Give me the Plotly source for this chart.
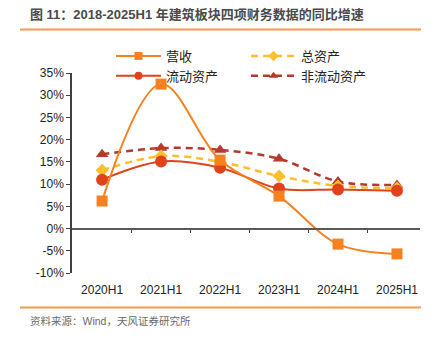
import plotly.graph_objects as go

# Periods and year-on-year growth rates (%)
periods = ["2020H1", "2021H1", "2022H1", "2023H1", "2024H1", "2025H1"]
revenue = [6.2, 32.5, 15.4, 7.3, -3.5, -5.7]            # 营收
total_assets = [13.1, 16.3, 15.0, 11.8, 9.6, 9.1]       # 总资产
current_assets = [11.0, 15.1, 13.7, 9.0, 8.8, 8.5]      # 流动资产
noncurrent_assets = [16.7, 18.1, 17.7, 15.7, 10.6, 9.8]  # 非流动资产

y_ticks = [-10, -5, 0, 5, 10, 15, 20, 25, 30, 35]
y_tick_text = ["-10%", "-5%", "0%", "5%", "10%", "15%", "20%", "25%", "30%", "35%"]

W, H = 436, 340
ML, MR, MT, MB = 72, 16, 73, 67
PW, PH = W - ML - MR, H - MT - MB


def px_x(x):
    return (x - ML) / PW


def px_y(y):
    return (H - MB - y) / PH


xs = list(range(len(periods)))
CJK = "Liberation Sans, Noto Sans CJK SC, sans-serif"

series = [
    # name, values, colour, width, dash, symbol, size, legend
    ("营收", revenue, "#F5821F", 2, "solid", "square", 11, "legend"),
    ("流动资产", current_assets, "#E0421C", 2, "solid", "circle", 12, "legend"),
    ("总资产", total_assets, "#FFBE2B", 2.5, "7px,5px", "diamond", 10, "legend2"),
    ("非流动资产", noncurrent_assets, "#B53A2C", 2.5, "7px,5px", "triangle-up", 11, "legend2"),
]

fig = go.Figure()

# Series lines and markers (drawn back to front so 营收 stays on top)
for name, vals, color, width, dash, symbol, size, leg in reversed(series):
    fig.add_trace(go.Scatter(
        x=xs, y=vals, name=name, mode="lines+markers",
        line=dict(color=color, width=width, dash=dash, shape="spline", smoothing=1),
        marker=dict(symbol=symbol, size=size, color=color),
        showlegend=False,
    ))

# Legend entries with compact markers
for name, vals, color, width, dash, symbol, size, leg in series:
    fig.add_trace(go.Scatter(
        x=[None], y=[None], name=name, mode="lines+markers",
        line=dict(color=color, width=width, dash=dash),
        marker=dict(symbol=symbol, size=8, color=color),
        legend=leg, showlegend=True,
    ))

x_range = [-0.51, 5.39]

legend_style = dict(
    xanchor="left", yanchor="top", orientation="v",
    font=dict(size=13, color="#222222"),
    bgcolor="rgba(0,0,0,0)", tracegroupgap=0, itemwidth=45,
)

fig.update_layout(
    width=W, height=H,
    margin=dict(l=ML, r=MR, t=MT, b=MB),
    paper_bgcolor="white", plot_bgcolor="white",
    font=dict(family=CJK, size=12, color="#222222"),
    showlegend=True,
    xaxis=dict(
        range=x_range, tickmode="array", tickvals=xs, ticktext=periods,
        showline=False, showgrid=False, zeroline=False,
        ticks="", ticklabelstandoff=8,
        tickfont=dict(size=12, color="#222222"),
    ),
    xaxis2=dict(
        range=x_range, overlaying="x", anchor="free", position=10 / 45,
        showline=True, linecolor="#595959", linewidth=2,
        tickmode="array", tickvals=[0.5, 1.5, 2.5, 3.5, 4.5],
        ticks="outside", ticklen=3, tickcolor="#404040", tickwidth=1,
        showticklabels=False, showgrid=False, zeroline=False, side="bottom",
    ),
    yaxis=dict(
        range=[-10, 35], tickmode="array", tickvals=y_ticks, ticktext=y_tick_text,
        showline=True, linecolor="#404040", linewidth=1.5,
        ticks="outside", ticklen=4, tickcolor="#404040",
        showgrid=False, zeroline=False,
        tickfont=dict(size=12, color="#222222"),
    ),
    legend=dict(x=px_x(111), y=px_y(41), **legend_style),
    legend2=dict(x=px_x(246), y=px_y(41), **legend_style),
)

# Invisible trace to activate the overlaid zero-line axis
fig.add_trace(go.Scatter(x=[0], y=[0], xaxis="x2", mode="markers",
                         marker=dict(opacity=0), showlegend=False, hoverinfo="skip"))

# Header rule and footer rule
for y in (29.5, 307.5):
    fig.add_shape(type="line", xref="paper", yref="paper",
                  x0=px_x(20), x1=px_x(421), y0=px_y(y), y1=px_y(y),
                  line=dict(color="#F79A4A", width=2))

fig.add_annotation(
    text="<b>图 11：2018-2025H1 年建筑板块四项财务数据的同比增速</b>",
    xref="paper", yref="paper", x=px_x(28), y=px_y(15),
    xanchor="left", yanchor="middle", showarrow=False,
    font=dict(family=CJK, size=13, color="#4A4A4A"),
)
fig.add_annotation(
    text="资料来源：Wind，天风证券研究所",
    xref="paper", yref="paper", x=px_x(28), y=px_y(321),
    xanchor="left", yanchor="middle", showarrow=False,
    font=dict(family=CJK, size=10.5, color="#6A6A6A"),
)

fig.write_html("out.html")
